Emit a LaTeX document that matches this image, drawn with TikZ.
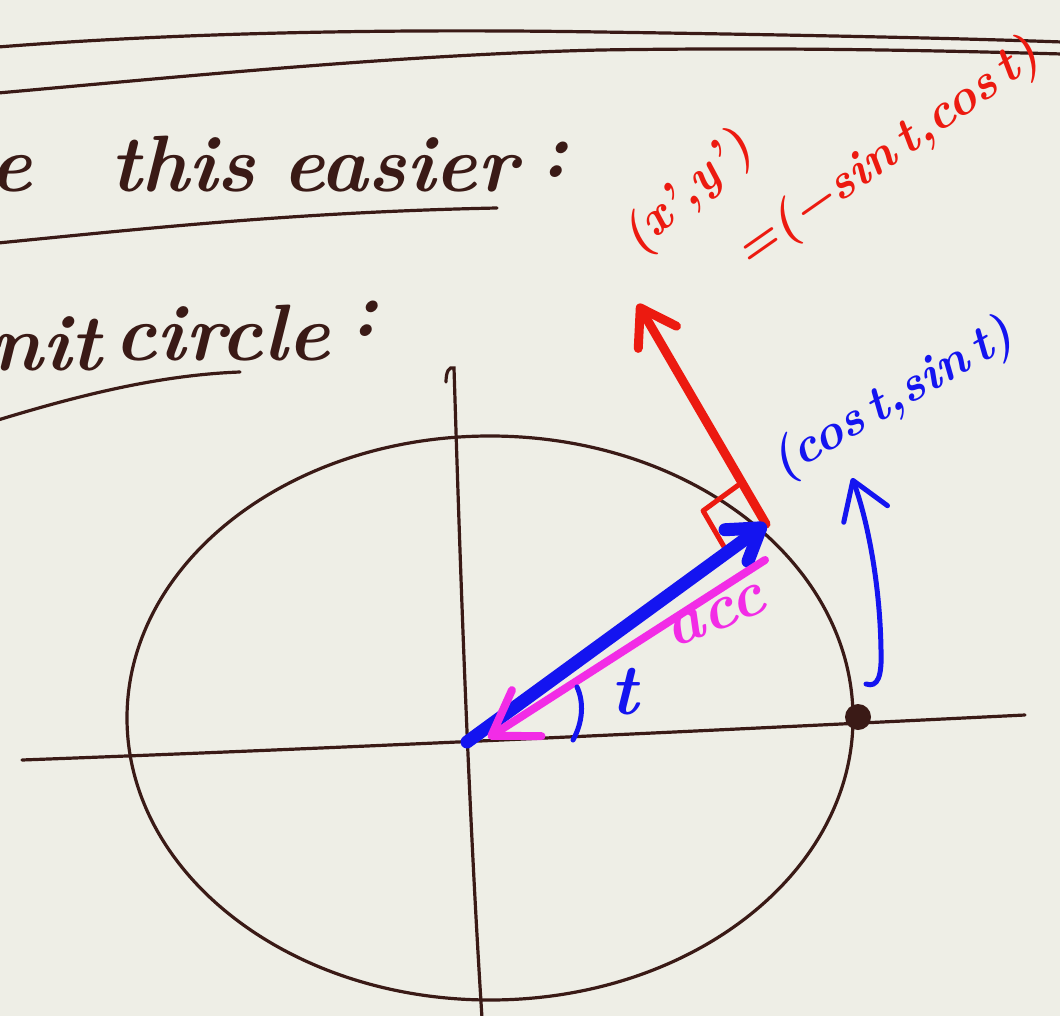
\documentclass[tikz,border=0pt]{standalone}
\usepackage{fontspec}
\usetikzlibrary{arrows.meta,calc}
\definecolor{paper}{HTML}{EEEEE6}
\definecolor{ink}{HTML}{3A1A16}
\definecolor{pred}{HTML}{EC1A10}
\definecolor{pblue}{HTML}{1414F0}
\definecolor{pmag}{HTML}{F22CE6}
\begin{document}
\begin{tikzpicture}[x=1pt,y=-1pt,
  inkline/.style={draw=ink,line width=3.2pt,line cap=round},
  hand/.style={text=ink,font=\fontsize{80}{88}\selectfont\bfseries\itshape,inner sep=0pt},
  redlbl/.style={text=pred,font=\fontsize{50}{56}\selectfont\bfseries\itshape,inner sep=0pt},
  bluelbl/.style={text=pblue,font=\fontsize{50}{54}\selectfont\bfseries\itshape,inner sep=0pt},
  maglbl/.style={text=pmag,font=\fontsize{64}{70}\selectfont\bfseries\itshape,inner sep=0pt},
  barb/.style={-{Straight Barb[length=#1,width=1.3*#1,round]}},
]
\fill[paper] (0,0) rectangle (1060,1016);
\useasboundingbox (0,0) rectangle (1060,1016);

% header lines
\draw[inkline] (-2,47) .. controls (150,35) and (350,28) .. (600,32) .. controls (800,35) and (950,38) .. (1062,42);
\draw[inkline] (-2,93) .. controls (200,75) and (400,55) .. (600,50) .. controls (800,47) and (950,51) .. (1062,54);

% handwritten text
\node[hand,anchor=base east] (te) at (32,192) {e};
\node[hand,anchor=base west] (tthis) at (110,192) {this};
\node[hand,anchor=base west] (teasier) at (282,192) {easier};
\node[hand,anchor=base west] (tcol1) at (540,178) {:};
\draw[inkline] (-2,243) .. controls (150,228) and (300,212) .. (497,208);

\node[hand,anchor=base west] (tnit) at (-10,370) {nit};
\node[hand,anchor=base west] (tcircle) at (114,360) {circle};
\node[hand,anchor=base west] (tcol2) at (350,336) {:};
\draw[inkline] (-2,420) .. controls (80,395) and (160,375) .. (240,372);

% axes and circle
\coordinate (O) at (467,742);
\coordinate (P) at (766,524);
\draw[inkline] (446,382) .. controls (446,372) and (449,366) .. (454,368)
  .. controls (460,560) and (468,800) .. (482,1018);
\draw[inkline] (22,760) .. controls (400,746) and (800,726) .. (1025,715);
\draw[inkline] (490,718) ellipse [x radius=363, y radius=282];
\fill[ink] (858,717) circle [radius=13];

% red perpendicular vector
\coordinate (T) at (638,304);
\draw[pred,line width=9pt,line cap=round,barb=34pt] (P) -- (T);
\coordinate (A) at ($(P)!48pt!(T)$);
\coordinate (B) at ($(P)!48pt!(O)$);
\coordinate (C) at ($(A)+(B)-(P)$);
\draw[pred,line width=5pt,line cap=round,line join=round] (A) -- (C) -- (B);

% blue position vector and pink acceleration
\draw[pblue,line width=13pt,line cap=round,barb=30pt] (O) -- (P);
\coordinate (K1) at (765,560);
\coordinate (K2) at (488,738);
\draw[pmag,line width=8pt,line cap=round,barb=42pt] (K1) -- (K2);

% angle t
\draw[pblue,line width=5pt,line cap=round] (573,740) .. controls (583,722) and (584,702) .. (577,687);
\node[text=pblue,font=\fontsize{72}{76}\selectfont\bfseries\itshape,inner sep=0pt] (tt) at (624,692) {t};
\node[maglbl,rotate=22] (acc) at (716,616) {acc};

% blue rotation arrow
\coordinate (R1) at (866,684);
\coordinate (R2) at (852,478);
\draw[pblue,line width=5pt,line cap=round,barb=36pt] (R1) .. controls (878,688) and (882,676) .. (881,650)
  .. controls (880,580) and (866,515) .. (R2);

% labels
\node[bluelbl,rotate=30] (lcos) at (893,400) {(cos\,t,sin\,t)};
\node[redlbl,rotate=42] (lxy) at (688,194) {(x',y')};
\node[redlbl,rotate=35,anchor=west] (lsin) at (740,258) {=(−sin\,t,cos\,t)};
\end{tikzpicture}
\end{document}
